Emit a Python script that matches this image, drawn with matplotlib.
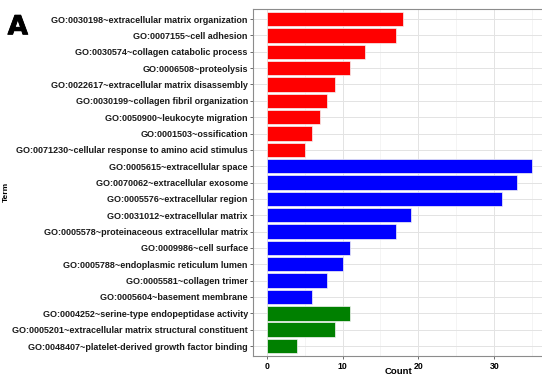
import matplotlib.pyplot as plt
import matplotlib.patheffects as pe
import numpy as np
from matplotlib.ticker import MultipleLocator

plt.rcParams['font.family'] = ['Liberation Sans', 'DejaVu Sans']

bp_terms = [
    "GO:0030198~extracellular matrix organization",
    "GO:0007155~cell adhesion",
    "GO:0030574~collagen catabolic process",
    "GO:0006508~proteolysis",
    "GO:0022617~extracellular matrix disassembly",
    "GO:0030199~collagen fibril organization",
    "GO:0050900~leukocyte migration",
    "GO:0001503~ossification",
    "GO:0071230~cellular response to amino acid stimulus",
]
bp_counts = [18, 17, 13, 11, 9, 8, 7, 6, 5]

cc_terms = [
    "GO:0005615~extracellular space",
    "GO:0070062~extracellular exosome",
    "GO:0005576~extracellular region",
    "GO:0031012~extracellular matrix",
    "GO:0005578~proteinaceous extracellular matrix",
    "GO:0009986~cell surface",
    "GO:0005788~endoplasmic reticulum lumen",
    "GO:0005581~collagen trimer",
    "GO:0005604~basement membrane",
]
cc_counts = [35, 33, 31, 19, 17, 11, 10, 8, 6]

mf_terms = [
    "GO:0004252~serine-type endopeptidase activity",
    "GO:0005201~extracellular matrix structural constituent",
    "GO:0048407~platelet-derived growth factor binding",
]
mf_counts = [11, 9, 4]

terms = bp_terms + cc_terms + mf_terms
counts = bp_counts + cc_counts + mf_counts
colors = (["#ff0000"] * len(bp_terms) + ["#0000ff"] * len(cc_terms)
          + ["#008000"] * len(mf_terms))

fig = plt.figure(figsize=(5.42, 3.77), dpi=100)
ax = fig.add_axes([0.4674, 0.0562, 0.5392, 0.9191])

y = np.arange(len(terms))[::-1]
ax.barh(y, counts, height=0.88, color=colors, edgecolor="#f4f4f4",
        linewidth=0.5, zorder=3)

ax.set_ylim(-0.6, len(terms) - 0.4)
ax.set_xlim(-1.75, 36.75)
ax.set_yticks(y)
ax.set_yticklabels(terms, fontsize=6.5, fontweight="bold", color="#1a1a1a")
ax.xaxis.set_major_locator(MultipleLocator(10))
ax.xaxis.set_minor_locator(MultipleLocator(5))
ax.tick_params(axis="x", labelsize=6.3, length=2.5, width=0.6, color="#555555",
               pad=2)
for lab in ax.get_xticklabels():
    lab.set_fontweight("bold")
ax.tick_params(axis="y", length=2.5, width=0.6, color="#555555", pad=1.5)
ax.tick_params(which="minor", length=0)

ax.grid(which="major", color="#e3e3e3", linewidth=0.7, zorder=0)
ax.grid(which="minor", axis="x", color="#f0f0f0", linewidth=0.5, zorder=0)
ax.set_axisbelow(True)

for s in ax.spines.values():
    s.set_color("#8c8c8c")
    s.set_linewidth(0.8)

# axis titles and panel letter
fig.text(0.736, 0.014, "Count", fontsize=6.8, fontweight="bold",
         ha="center", va="center")
fig.text(0.012, 0.49, "Term", rotation=90, fontsize=6, fontweight="bold",
         ha="center", va="center")
fig.text(0.014, 0.962, "A", fontsize=19, fontweight="bold", ha="left",
         va="top", family="DejaVu Sans",
         path_effects=[pe.withStroke(linewidth=0.6, foreground="black")])

fig.savefig("out.png", dpi=100)
